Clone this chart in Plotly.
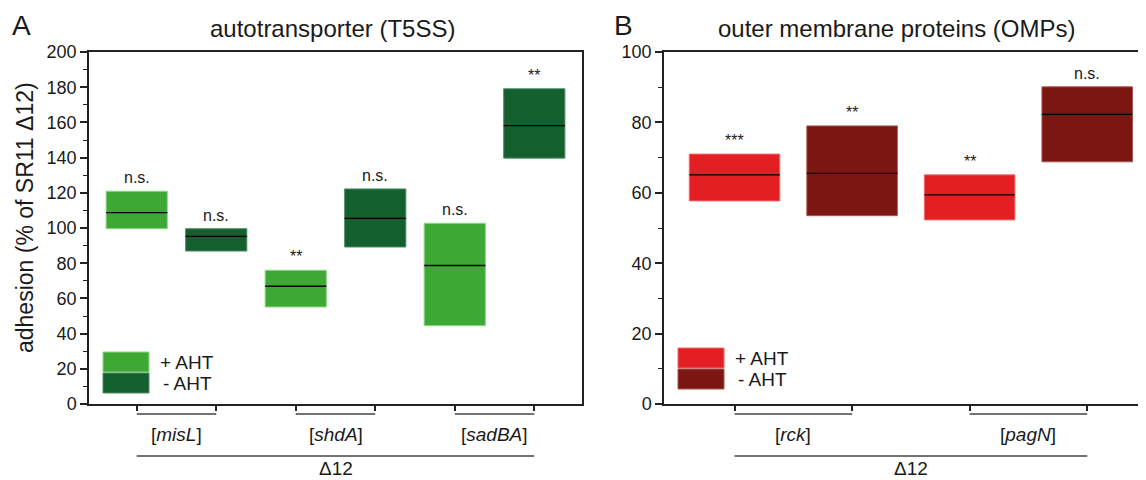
import plotly.graph_objects as go

# ---------------- data ----------------
left_genes = ["misL", "shdA", "sadBA"]
left_conditions = ["+ AHT", "- AHT", "+ AHT", "- AHT", "+ AHT", "- AHT"]
left_low = [99.6, 86.9, 55.1, 89.2, 44.5, 139.7]
left_high = [120.9, 99.6, 76.0, 122.2, 102.7, 179.1]
left_median = [108.7, 95.2, 66.9, 105.5, 78.7, 158.2]
left_sig = ["n.s.", "n.s.", "**", "n.s.", "n.s.", "**"]

right_genes = ["rck", "pagN"]
right_conditions = ["+ AHT", "- AHT", "+ AHT", "- AHT"]
right_low = [57.7, 53.5, 52.3, 68.8]
right_high = [71.0, 79.0, 65.1, 90.1]
right_median = [65.1, 65.5, 59.4, 82.3]
right_sig = ["***", "**", "**", "n.s."]

left_yticks = [0, 20, 40, 60, 80, 100, 120, 140, 160, 180, 200]
right_yticks = [0, 20, 40, 60, 80, 100]

colors_left = {"+ AHT": "#3ea834", "- AHT": "#135f2d"}
edge_left = {"+ AHT": "#8fd98a", "- AHT": "#4f8f66"}
colors_right = {"+ AHT": "#e31f23", "- AHT": "#7c1612"}
edge_right = {"+ AHT": "#f06a6a", "- AHT": "#a85450"}

FONT = "Arial, Liberation Sans, Helvetica, sans-serif"
PAGE_W, PAGE_H = 1146, 480
OFF = 8  # default body margin of the html page
W, H = PAGE_W - OFF, PAGE_H - OFF
BOXW = 0.77
TXT = "#1a1a1a"


def px(xpage):
    return (xpage - OFF) / W


def py(ypage):
    return (PAGE_H - ypage) / H


fig = go.Figure()


def add_panel(xa, ya, conds, low, high, med, sig, cols, edges):
    xs = list(range(1, len(low) + 1))
    fig.add_trace(go.Bar(
        x=xs, y=[h - l for h, l in zip(high, low)], base=low, width=BOXW,
        marker=dict(color=[cols[c] for c in conds],
                    line=dict(color=[edges[c] for c in conds], width=1)),
        xaxis=xa, yaxis=ya, showlegend=False, hoverinfo="skip"))
    for x, m in zip(xs, med):
        fig.add_trace(go.Scatter(
            x=[x - BOXW / 2, x + BOXW / 2], y=[m, m], mode="lines",
            line=dict(color="black", width=1.3), xaxis=xa, yaxis=ya,
            showlegend=False, hoverinfo="skip"))
    for x, h, s in zip(xs, high, sig):
        fig.add_annotation(x=x, y=h, xref=xa, yref=ya, text=s, showarrow=False,
                           xanchor="center", yanchor="bottom", yshift=3,
                           font=dict(size=16, color=TXT, family=FONT))


add_panel("x", "y", left_conditions, left_low, left_high, left_median, left_sig,
          colors_left, edge_left)
add_panel("x2", "y2", right_conditions, right_low, right_high, right_median, right_sig,
          colors_right, edge_right)

ydom = [py(404), py(52)]
axis_common = dict(showline=True, linecolor="#222", linewidth=1.5, showgrid=False,
                   zeroline=False, ticks="outside", tickcolor="#222", tickwidth=1.5,
                   automargin=False)
tickfont = dict(size=18, family=FONT, color=TXT)

fig.update_layout(
    width=W, height=H, margin=dict(l=0, r=0, t=0, b=0, pad=0, autoexpand=False),
    paper_bgcolor="white", plot_bgcolor="white", showlegend=False,
    font=dict(family=FONT, color=TXT),
    xaxis=dict(domain=[px(89), px(582)], range=[0.4, 6.6], mirror=True,
               tickvals=list(range(1, 7)), ticktext=[""] * 6, ticklen=5,
               **axis_common),
    yaxis=dict(domain=ydom, range=[0, 200], mirror=True,
               tickvals=left_yticks, ticklen=7, tickfont=tickfont,
               minor=dict(dtick=10, ticklen=4, ticks="outside", tickcolor="#222",
                          tickwidth=1.2),
               **axis_common),
    xaxis2=dict(domain=[px(664), 1.0], range=[0.4, 4.5], mirror=True,
                tickvals=list(range(1, 5)), ticktext=[""] * 4, ticklen=5,
                anchor="y2", **axis_common),
    yaxis2=dict(domain=ydom, range=[0, 100], mirror=False, anchor="x2",
                tickvals=right_yticks, ticklen=7, tickfont=tickfont,
                minor=dict(dtick=10, ticklen=4, ticks="outside", tickcolor="#222",
                           tickwidth=1.2),
                **axis_common),
)


def text(x, y, s, size, xanchor="center", angle=0, xref="paper"):
    fig.add_annotation(xref=xref, yref="paper", x=x, y=y, text=s, showarrow=False,
                       xanchor=xanchor, yanchor="middle", textangle=angle,
                       font=dict(size=size, family=FONT, color=TXT))


def add_brackets(xa, genes, npos):
    for i, g in enumerate(genes):
        a, b = 2 * i + 1, 2 * i + 2
        fig.add_shape(type="line", xref=xa, yref="paper", x0=a, x1=b,
                      y0=py(414), y1=py(414), line=dict(color="#444", width=1.5))
        text((a + b) / 2, py(434), "[<i>%s</i>]" % g, 19, xref=xa)
    fig.add_shape(type="line", xref=xa, yref="paper", x0=1, x1=npos,
                  y0=py(456), y1=py(456), line=dict(color="#444", width=1.5))
    text((1 + npos) / 2, py(468), "Δ12", 19, xref=xa)


add_brackets("x", left_genes, 6)
add_brackets("x2", right_genes, 4)


def add_legend(x0px, y0px, cols, edges):
    for k, c in enumerate(["+ AHT", "- AHT"]):
        top = y0px + k * 21
        fig.add_shape(type="rect", xref="paper", yref="paper",
                      x0=px(x0px), x1=px(x0px + 46), y0=py(top), y1=py(top + 20),
                      fillcolor=cols[c], line=dict(color=edges[c], width=1))
        text(px(x0px + 55 + 3 * k), py(top + 10), c, 19, xanchor="left")


add_legend(103, 352, colors_left, edge_left)
add_legend(678, 348, colors_right, edge_right)

# titles and panel letters
text(px(332), py(29), "autotransporter (T5SS)", 24)
text(px(896), py(29), "outer membrane proteins (OMPs)", 24)
text(px(21), py(25), "A", 28)
text(px(623), py(25), "B", 28)
text(px(25), py(218), "adhesion (% of SR11 Δ12)", 23, angle=-90)

fig.write_html("out.html")
